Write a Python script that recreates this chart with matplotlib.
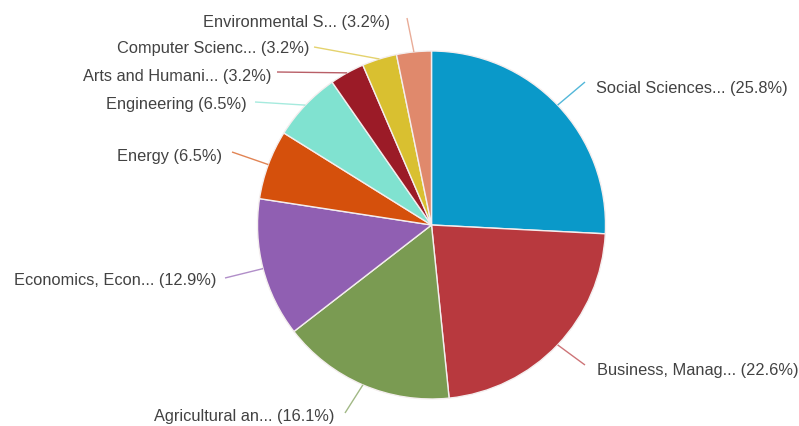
import numpy as np
import matplotlib
matplotlib.use('Agg')
import matplotlib.pyplot as plt

plt.rcParams['font.family'] = ['Liberation Sans', 'DejaVu Sans']

# Share of records per subject area (counts out of 31)
labels = ['Social Sciences...', 'Business, Manag...', 'Agricultural an...',
          'Economics, Econ...', 'Energy', 'Engineering', 'Arts and Humani...',
          'Computer Scienc...', 'Environmental S...']
counts = [8, 7, 5, 4, 2, 2, 1, 1, 1]
colors = ['#0a99c9', '#b8393e', '#7a9b52', '#905fb2', '#d5500c',
          '#80e2d0', '#9b1b27', '#d9c030', '#e0896c']

# label layout in pixels (y measured from top): line end, text anchor, alignment
label_layout = [
    ((585, 82), (596, 88), 'left'),
    ((585, 365), (597, 370), 'left'),
    ((345, 413), (334, 416), 'right'),
    ((225, 278), (216, 281), 'right'),
    ((232, 152), (222, 157), 'right'),
    ((255, 102), (247, 104), 'right'),
    ((277, 72), (271, 76), 'right'),
    ((314, 47), (309, 49), 'right'),
    ((407, 18), (390, 22), 'right'),
]

W, H = 799, 426
cx, cy, R = 431.5, 225, 174

fig = plt.figure(figsize=(W / 100, H / 100), dpi=100)
ax = fig.add_axes([0, 0, 1, 1])

wedges, _ = ax.pie(counts, colors=colors, startangle=90, counterclock=False,
                   center=(cx, H - cy), radius=R,
                   wedgeprops=dict(edgecolor='#f4eeee', linewidth=1.0))

total = sum(counts)
for w, lab, n, (end, txt, ha) in zip(wedges, labels, counts, label_layout):
    ang = np.deg2rad((w.theta1 + w.theta2) / 2)
    x0 = cx + R * np.cos(ang)
    y0 = (H - cy) + R * np.sin(ang)
    ax.plot([x0, end[0]], [y0, H - end[1]], color=w.get_facecolor(),
            lw=1.0, alpha=0.7, solid_capstyle='butt')
    pct = 100 * n / total
    ax.text(txt[0], H - txt[1], f'{lab} ({pct:.1f}%)', ha=ha, va='center',
            fontsize=11.8, color='#424242')

# pie() resets the view, so fix the pixel-based limits afterwards
ax.set_xlim(0, W)
ax.set_ylim(0, H)
ax.set_aspect('equal')
ax.axis('off')

fig.savefig('out.png', dpi=100)
